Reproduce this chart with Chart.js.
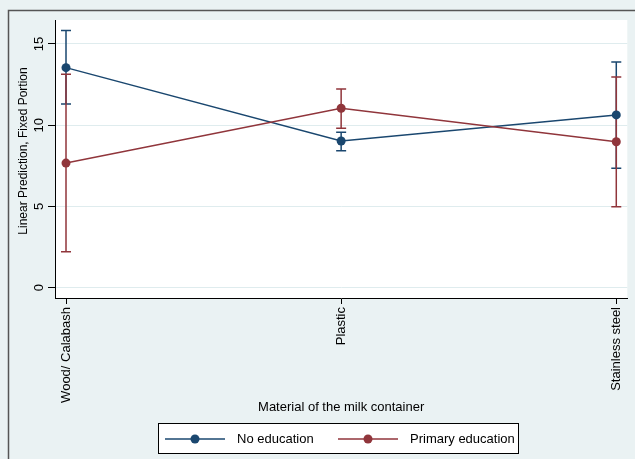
<!DOCTYPE html>
<html>
<head>
<meta charset="utf-8">
<script src="https://cdn.jsdelivr.net/npm/chart.js@4"></script>
<style>
  html, body { margin: 0; padding: 0; background: #eaf2f3; }
  canvas { display: block; }
</style>
</head>
<body>
<canvas id="chart" width="635" height="459"></canvas>
<script>
// values
const categories = ['Wood/ Calabash', 'Plastic', 'Stainless steel'];
const yTicks = [0, 5, 10, 15];
const yTitle = 'Linear Prediction, Fixed Portion';

const noEducation = [13.54, 9.03, 10.63];
const noEducationLow = [11.30, 8.43, 7.35];
const noEducationHigh = [15.82, 9.56, 13.89];

const primaryEducation = [7.67, 11.04, 8.98];
const primaryEducationLow = [2.22, 9.81, 4.98];
const primaryEducationHigh = [13.13, 12.23, 12.97];

const BLUE = '#1a476f';
const RED = '#90353b';
const BG = '#eaf2f3';
const FONT = "'Liberation Sans', Arial, sans-serif";

Chart.defaults.color = '#000';
Chart.defaults.font.family = FONT;

function toPoints(values) {
  return values.map((v, i) => ({ x: i, y: v }));
}

// background, white plot region and the outer frame
const backdrop = {
  id: 'backdrop',
  beforeDraw(chart) {
    const { ctx, chartArea: a, width, height } = chart;
    ctx.save();
    ctx.fillStyle = BG;
    ctx.fillRect(0, 0, width, height);
    ctx.fillStyle = '#fff';
    ctx.fillRect(a.left, a.top, a.right - a.left, a.bottom - a.top);
    ctx.strokeStyle = '#555';
    ctx.lineWidth = 1.5;
    ctx.beginPath();
    ctx.moveTo(8.5, height);
    ctx.lineTo(8.5, 10.5);
    ctx.lineTo(width, 10.5);
    ctx.stroke();
    ctx.restore();
  }
};

// confidence intervals with caps
const errorBars = {
  id: 'errorBars',
  beforeDatasetsDraw(chart) {
    const { ctx, scales } = chart;
    ctx.save();
    chart.data.datasets.forEach(ds => {
      ctx.strokeStyle = ds.borderColor;
      ctx.lineWidth = 1.5;
      ds.errLow.forEach((lo, i) => {
        const x = scales.x.getPixelForValue(i);
        const y1 = scales.y.getPixelForValue(lo);
        const y2 = scales.y.getPixelForValue(ds.errHigh[i]);
        ctx.beginPath();
        ctx.moveTo(x, y1);
        ctx.lineTo(x, y2);
        ctx.moveTo(x - 5, y1);
        ctx.lineTo(x + 5, y1);
        ctx.moveTo(x - 5, y2);
        ctx.lineTo(x + 5, y2);
        ctx.stroke();
      });
    });
    ctx.restore();
  }
};

// vertical y tick labels and the y title
const yLabels = {
  id: 'yLabels',
  afterDraw(chart) {
    const { ctx, scales } = chart;
    ctx.save();
    ctx.fillStyle = '#000';
    ctx.textAlign = 'center';
    ctx.textBaseline = 'middle';
    ctx.font = '13px ' + FONT;
    yTicks.forEach(v => {
      const y = scales.y.getPixelForValue(v);
      ctx.save();
      ctx.translate(39, y);
      ctx.rotate(-Math.PI / 2);
      ctx.fillText(String(v), 0, 0);
      ctx.restore();
    });
    ctx.font = '12px ' + FONT;
    ctx.translate(24, 151);
    ctx.rotate(-Math.PI / 2);
    ctx.fillText(yTitle, 0, 0);
    ctx.restore();
  }
};

// boxed legend under the x axis title
const boxLegend = {
  id: 'boxLegend',
  afterDraw(chart) {
    const { ctx } = chart;
    ctx.save();
    ctx.fillStyle = '#fff';
    ctx.fillRect(158.5, 423.5, 360, 30);
    ctx.strokeStyle = '#000';
    ctx.lineWidth = 1;
    ctx.strokeRect(158.5, 423.5, 360, 30);
    const items = [
      { x: 165, ds: chart.data.datasets[0] },
      { x: 338, ds: chart.data.datasets[1] }
    ];
    ctx.font = '13px ' + FONT;
    ctx.textBaseline = 'middle';
    items.forEach(it => {
      const y = 439;
      ctx.strokeStyle = it.ds.borderColor;
      ctx.lineWidth = 1.5;
      ctx.beginPath();
      ctx.moveTo(it.x, y);
      ctx.lineTo(it.x + 60, y);
      ctx.stroke();
      ctx.fillStyle = it.ds.borderColor;
      ctx.beginPath();
      ctx.arc(it.x + 30, y, 4.5, 0, Math.PI * 2);
      ctx.fill();
      ctx.fillStyle = '#000';
      ctx.fillText(it.ds.label, it.x + 72, y);
    });
    ctx.restore();
  }
};

new Chart(document.getElementById('chart'), {
  type: 'line',
  data: {
    datasets: [{
      label: 'No education',
      data: toPoints(noEducation),
      errLow: noEducationLow,
      errHigh: noEducationHigh,
      borderColor: BLUE,
      backgroundColor: BLUE,
      borderWidth: 1.5,
      pointRadius: 4.5,
      pointBorderWidth: 0,
      order: 1
    }, {
      label: 'Primary education',
      data: toPoints(primaryEducation),
      errLow: primaryEducationLow,
      errHigh: primaryEducationHigh,
      borderColor: RED,
      backgroundColor: RED,
      borderWidth: 1.5,
      pointRadius: 4.5,
      pointBorderWidth: 0,
      order: 0
    }]
  },
  options: {
    responsive: false,
    animation: false,
    layout: { padding: { left: 8, top: 20, right: 6, bottom: 44 } },
    plugins: {
      legend: { display: false },
      tooltip: { enabled: false }
    },
    scales: {
      x: {
        type: 'linear',
        min: -0.04,
        max: 2.04,
        afterBuildTicks: scale => { scale.ticks = categories.map((c, i) => ({ value: i })); },
        afterFit: scale => { scale.height = 117; },
        ticks: {
          autoSkip: false,
          minRotation: 90,
          maxRotation: 90,
          padding: 3,
          font: { size: 13 },
          callback: v => categories[v]
        },
        grid: { drawOnChartArea: false, drawTicks: true, tickLength: 6, tickColor: '#000' },
        border: { display: true, color: '#000', width: 1 },
        title: {
          display: true,
          text: 'Material of the milk container',
          font: { size: 13 },
          padding: { top: 0, bottom: 0 }
        }
      },
      y: {
        min: -0.63,
        max: 16.47,
        afterBuildTicks: scale => { scale.ticks = yTicks.map(v => ({ value: v })); },
        afterFit: scale => { scale.width = 47; },
        ticks: { display: false },
        grid: { color: '#dfecee', lineWidth: 1, drawTicks: true, tickLength: 7, tickColor: '#000' },
        border: { display: true, color: '#000', width: 1 }
      }
    }
  },
  plugins: [backdrop, errorBars, yLabels, boxLegend]
});
</script>
</body>
</html>
